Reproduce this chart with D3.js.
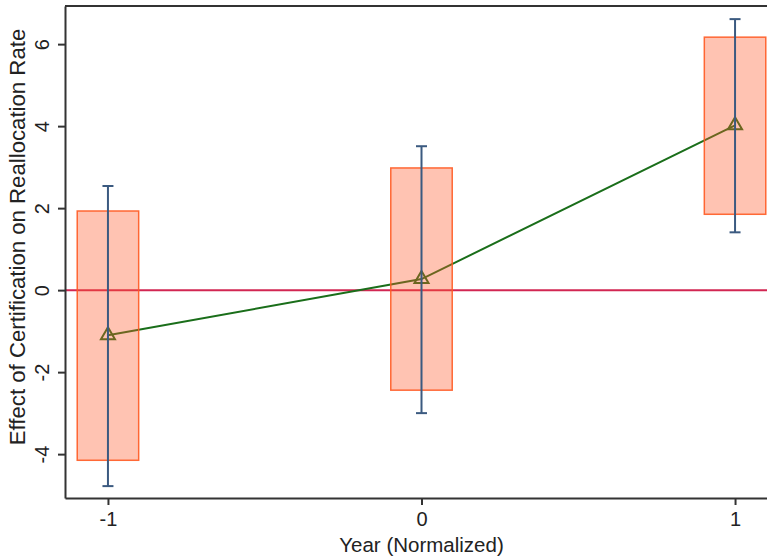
<!DOCTYPE html>
<html lang="en">
<head>
<meta charset="utf-8">
<title>Effect of Certification</title>
<style>
	body { margin: 0; background: #fff; }
	svg { display: block; font-family: "Liberation Sans", Arial, sans-serif; }
	.axis path, .axis line { stroke: #333; stroke-width: 2; }
	.axis text { fill: #222; font-size: 20px; }
</style>
</head>
<body>
<svg id="chart" width="767" height="560"></svg>
<script src="https://d3js.org/d3.v7.min.js"></script>
<script>
"use strict";

// data
var years = [-1, 0, 1];
var estimate = [-1.10, 0.27, 4.02];
var boxLow = [-4.15, -2.44, 1.85];
var boxHigh = [1.93, 2.98, 6.17];
var ciLow = [-4.78, -3.00, 1.41];
var ciHigh = [2.54, 3.51, 6.61];
var yTicks = [-4, -2, 0, 2, 4, 6];

var rows = years.map(function(d, i) {
	return { year: d, est: estimate[i], lo: boxLow[i], hi: boxHigh[i], cl: ciLow[i], ch: ciHigh[i] };
});

var svg = d3.select("#chart");
var plotLeft = 65, plotRight = 778, plotTop = 6, plotBottom = 498;

var x = d3.scaleLinear().domain([-1.137, 1.137]).range([plotLeft, plotRight]);
var y = d3.scaleLinear().domain([-5.07, 6.93]).range([plotBottom, plotTop]);

// plain hyphen like the original, not the unicode minus
var fmt = function(d) { return String(d); };

// frame top line
svg.append("line")
	.attr("x1", plotLeft).attr("x2", plotRight)
	.attr("y1", plotTop).attr("y2", plotTop)
	.attr("stroke", "#333").attr("stroke-width", 2);

// zero line
svg.append("line")
	.attr("x1", plotLeft).attr("x2", plotRight)
	.attr("y1", y(0)).attr("y2", y(0))
	.attr("stroke", "#d22652").attr("stroke-width", 2);

// estimate line
var line = d3.line().x(function(d) { return x(d.year); }).y(function(d) { return y(d.est); });
svg.append("path")
	.datum(rows)
	.attr("d", line)
	.attr("fill", "none")
	.attr("stroke", "#1a6e1a")
	.attr("stroke-width", 2);

// triangle markers
var tri = d3.symbol().type(d3.symbolTriangle).size(85);
svg.selectAll(".mark")
	.data(rows)
	.enter()
	.append("path")
	.attr("class", "mark")
	.attr("d", tri)
	.attr("transform", function(d) { return "translate(" + x(d.year) + "," + y(d.est) + ")"; })
	.attr("fill", "none")
	.attr("stroke", "#1a6e1a")
	.attr("stroke-width", 2);

// boxes
var half = 0.098;
svg.selectAll(".box")
	.data(rows)
	.enter()
	.append("rect")
	.attr("class", "box")
	.attr("x", function(d) { return x(d.year - half); })
	.attr("width", function(d) { return x(d.year + half) - x(d.year - half); })
	.attr("y", function(d) { return y(d.hi); })
	.attr("height", function(d) { return y(d.lo) - y(d.hi); })
	.attr("fill", "#ff5a2a")
	.attr("fill-opacity", 0.36)
	.attr("stroke", "#ff5a22")
	.attr("stroke-opacity", 0.9)
	.attr("stroke-width", 1.5);

// error bars
var eb = svg.selectAll(".err").data(rows).enter().append("g").attr("class", "err")
	.attr("stroke", "#3b5a80").attr("stroke-width", 2);
eb.append("line")
	.attr("x1", function(d) { return x(d.year); }).attr("x2", function(d) { return x(d.year); })
	.attr("y1", function(d) { return y(d.ch); }).attr("y2", function(d) { return y(d.cl); });
eb.append("line")
	.attr("x1", function(d) { return x(d.year) - 5.5; }).attr("x2", function(d) { return x(d.year) + 5.5; })
	.attr("y1", function(d) { return y(d.ch); }).attr("y2", function(d) { return y(d.ch); });
eb.append("line")
	.attr("x1", function(d) { return x(d.year) - 5.5; }).attr("x2", function(d) { return x(d.year) + 5.5; })
	.attr("y1", function(d) { return y(d.cl); }).attr("y2", function(d) { return y(d.cl); });

// axes
var xAxis = svg.append("g").attr("class", "axis")
	.attr("transform", "translate(0," + plotBottom + ")")
	.call(d3.axisBottom(x).tickValues(years).tickSize(7).tickSizeOuter(0).tickPadding(7).tickFormat(fmt));

var yAxis = svg.append("g").attr("class", "axis")
	.attr("transform", "translate(" + plotLeft + ",0)")
	.call(d3.axisLeft(y).tickValues(yTicks).tickSize(7).tickSizeOuter(0).tickFormat(fmt));
yAxis.selectAll("text")
	.attr("x", null).attr("dy", null)
	.attr("text-anchor", "middle")
	.attr("transform", "translate(-16,0) rotate(-90)");

svg.append("text")
	.attr("x", (plotLeft + plotRight) / 2)
	.attr("y", 552)
	.attr("text-anchor", "middle")
	.attr("font-size", "20.5px")
	.attr("fill", "#222")
	.text("Year (Normalized)");

svg.append("text")
	.attr("transform", "translate(25," + ((plotTop + plotBottom) / 2 - 15) + ") rotate(-90)")
	.attr("text-anchor", "middle")
	.attr("font-size", "22.2px")
	.attr("fill", "#222")
	.text("Effect of Certification on Reallocation Rate");
</script>
</body>
</html>
